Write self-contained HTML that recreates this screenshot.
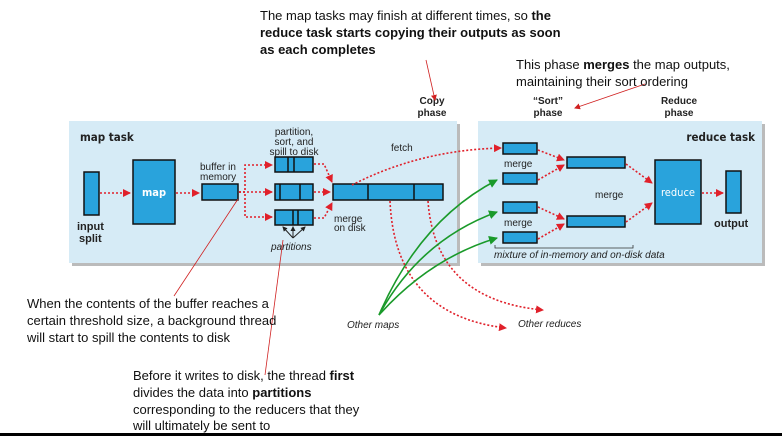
<!DOCTYPE html>
<html><head><meta charset="utf-8"><style>
html,body{margin:0;padding:0;background:#fff;}
svg{display:block;}
text{font-family:"Liberation Sans",sans-serif;}
.c{font-family:"DejaVu Sans Condensed","DejaVu Sans",sans-serif;font-size:10px;fill:#222;}
.cb{font-family:"DejaVu Sans Condensed","DejaVu Sans",sans-serif;font-size:10px;font-weight:bold;fill:#222;}
.ann{font-size:13px;fill:#111;}
</style></head><body>
<svg width="782" height="436" viewBox="0 0 782 436" xmlns="http://www.w3.org/2000/svg">
<defs>
<marker id="ra" markerWidth="8" markerHeight="8" refX="7" refY="4" orient="auto" markerUnits="userSpaceOnUse"><path d="M0,0 L8,4 L0,8z" fill="#e0202a"/></marker>
<marker id="ga" markerWidth="9" markerHeight="9" refX="8" refY="4.5" orient="auto" markerUnits="userSpaceOnUse"><path d="M0,0 L9,4.5 L0,9z" fill="#1a9a2a"/></marker>
<marker id="ta" markerWidth="6" markerHeight="6" refX="5" refY="3" orient="auto" markerUnits="userSpaceOnUse"><path d="M0,0 L6,3 L0,6z" fill="#d02020"/></marker>
<marker id="ka" markerWidth="5" markerHeight="5" refX="4" refY="2.5" orient="auto" markerUnits="userSpaceOnUse"><path d="M0,0 L5,2.5 L0,5z" fill="#222"/></marker>
</defs>
<!-- boxes -->
<rect x="72" y="124" width="388" height="142" fill="#bbb"/>
<rect x="69" y="121" width="388" height="142" fill="#d6ebf6"/>
<rect x="481" y="124" width="284" height="142" fill="#bbb"/>
<rect x="478" y="121" width="284" height="142" fill="#d6ebf6"/>
<text x="80" y="141" class="cb" style="font-size:11.5px">map task</text>
<text x="755" y="141" class="cb" text-anchor="end" style="font-size:11.5px">reduce task</text>
<g class="cb" text-anchor="middle"><text x="432" y="104">Copy</text><text x="432" y="116">phase</text>
<text x="548" y="104">“Sort”</text><text x="548" y="116">phase</text>
<text x="679" y="104">Reduce</text><text x="679" y="116">phase</text></g>
<g fill="#29a3dc" stroke="#111" stroke-width="1.5">
<rect x="84" y="172" width="15" height="43"/>
<rect x="133" y="160" width="42" height="64"/>
<rect x="202" y="184" width="36" height="16"/>
<rect x="275" y="157" width="38" height="15"/>
<rect x="275" y="184" width="38" height="16"/>
<rect x="275" y="210" width="38" height="15"/>
<rect x="333" y="184" width="110" height="16"/>
<rect x="503" y="143" width="34" height="11"/>
<rect x="503" y="173" width="34" height="11"/>
<rect x="503" y="202" width="34" height="11"/>
<rect x="503" y="232" width="34" height="11"/>
<rect x="567" y="157" width="58" height="11"/>
<rect x="567" y="216" width="58" height="11"/>
<rect x="655" y="160" width="46" height="64"/>
<rect x="726" y="171" width="15" height="42"/>
</g>
<g stroke="#111" stroke-width="1.5">
<line x1="288" y1="157" x2="288" y2="172"/><line x1="294" y1="157" x2="294" y2="172"/>
<line x1="280" y1="184" x2="280" y2="200"/><line x1="300" y1="184" x2="300" y2="200"/>
<line x1="293" y1="210" x2="293" y2="225"/><line x1="298" y1="210" x2="298" y2="225"/>
<line x1="368" y1="184" x2="368" y2="200"/><line x1="414" y1="184" x2="414" y2="200"/>
</g>
<text x="154" y="196" text-anchor="middle" class="cb" style="fill:#fff;font-size:11px">map</text>
<text x="678" y="196" text-anchor="middle" class="c" style="fill:#fff;font-size:11px">reduce</text>
<g class="cb" style="font-size:11px"><text x="77" y="230">input</text><text x="79" y="242">split</text><text x="714" y="227">output</text></g>
<g class="c"><text x="200" y="170">buffer in</text><text x="200" y="180">memory</text>
<text x="294" y="135" text-anchor="middle">partition,</text><text x="294" y="145" text-anchor="middle">sort, and</text><text x="294" y="155" text-anchor="middle">spill to disk</text>
<text x="391" y="151">fetch</text>
<text x="334" y="222">merge</text><text x="334" y="231">on disk</text>
<text x="504" y="167">merge</text><text x="504" y="226">merge</text><text x="595" y="198">merge</text>
<text x="271" y="250" style="font-style:italic">partitions</text>
<text x="494" y="258" style="font-style:italic">mixture of in-memory and on-disk data</text>
<text x="347" y="328" style="font-style:italic">Other maps</text>
<text x="518" y="327" style="font-style:italic">Other reduces</text></g>
<path d="M495,245 v3 h138 v-3" fill="none" stroke="#333" stroke-width="0.8"/>
<!-- partition arrows -->
<g stroke="#222" stroke-width="1" marker-end="url(#ka)"><line x1="293" y1="238" x2="283" y2="227"/><line x1="293" y1="238" x2="293" y2="227"/><line x1="293" y1="238" x2="305" y2="227"/></g>
<!-- red dotted -->
<g fill="none" stroke="#e0202a" stroke-width="1.6" stroke-dasharray="2,2" marker-end="url(#ra)">
<line x1="100" y1="193" x2="130" y2="193"/>
<line x1="176" y1="193" x2="199" y2="193"/>
<path d="M239,192 h6 v-27 h27"/>
<line x1="239" y1="192" x2="272" y2="192"/>
<path d="M239,192 h6 v25 h27"/>
<path d="M314,164 h10 l8,18"/>
<line x1="314" y1="192" x2="330" y2="192"/>
<path d="M314,218 h10 l8,-15"/>
<path d="M352,185 Q420,150 501,148"/>
<line x1="538" y1="150" x2="564" y2="160"/>
<line x1="538" y1="180" x2="564" y2="165"/>
<line x1="538" y1="207" x2="564" y2="219"/>
<line x1="538" y1="239" x2="564" y2="224"/>
<line x1="626" y1="164" x2="652" y2="183"/>
<line x1="626" y1="222" x2="652" y2="203"/>
<line x1="702" y1="193" x2="723" y2="193"/>
<path d="M390,201 Q395,315 506,328"/>
<path d="M428,201 Q435,300 543,310"/>
</g>
<!-- green -->
<g fill="none" stroke="#1a9a2a" stroke-width="1.6" marker-end="url(#ga)">
<path d="M379,315 Q420,220 497,180"/>
<path d="M379,315 Q420,240 497,212"/>
<path d="M379,315 Q430,258 497,238"/>
</g>
<!-- annotation pointers -->
<g stroke="#d02020" stroke-width="0.8" fill="none">
<line x1="426" y1="60" x2="435" y2="100" marker-end="url(#ta)"/>
<line x1="645" y1="84" x2="575" y2="108" marker-end="url(#ta)"/>
<line x1="174" y1="296" x2="238" y2="199"/>
<line x1="265" y1="375" x2="283" y2="240"/>
</g>
<g class="ann">
<text x="260" y="20">The map tasks may finish at different times, so <tspan font-weight="bold">the</tspan></text>
<text x="260" y="37" font-weight="bold">reduce task starts copying their outputs as soon</text>
<text x="260" y="54" font-weight="bold">as each completes</text>
<text x="516" y="69">This phase  <tspan font-weight="bold">merges</tspan> the map outputs,</text>
<text x="516" y="86">maintaining their sort ordering</text>
<text x="27" y="308">When the contents of the buffer reaches a</text>
<text x="27" y="325">certain threshold size, a background thread</text>
<text x="27" y="342">will start to spill the contents to disk</text>
<text x="133" y="380">Before it writes to disk, the thread <tspan font-weight="bold">first</tspan></text>
<text x="133" y="397">divides the data into <tspan font-weight="bold">partitions</tspan></text>
<text x="133" y="414">corresponding to the reducers that they</text>
<text x="133" y="430">will ultimately be sent to</text>
</g>
<rect x="0" y="433" width="782" height="3" fill="#000"/>
</svg>
</body></html>
